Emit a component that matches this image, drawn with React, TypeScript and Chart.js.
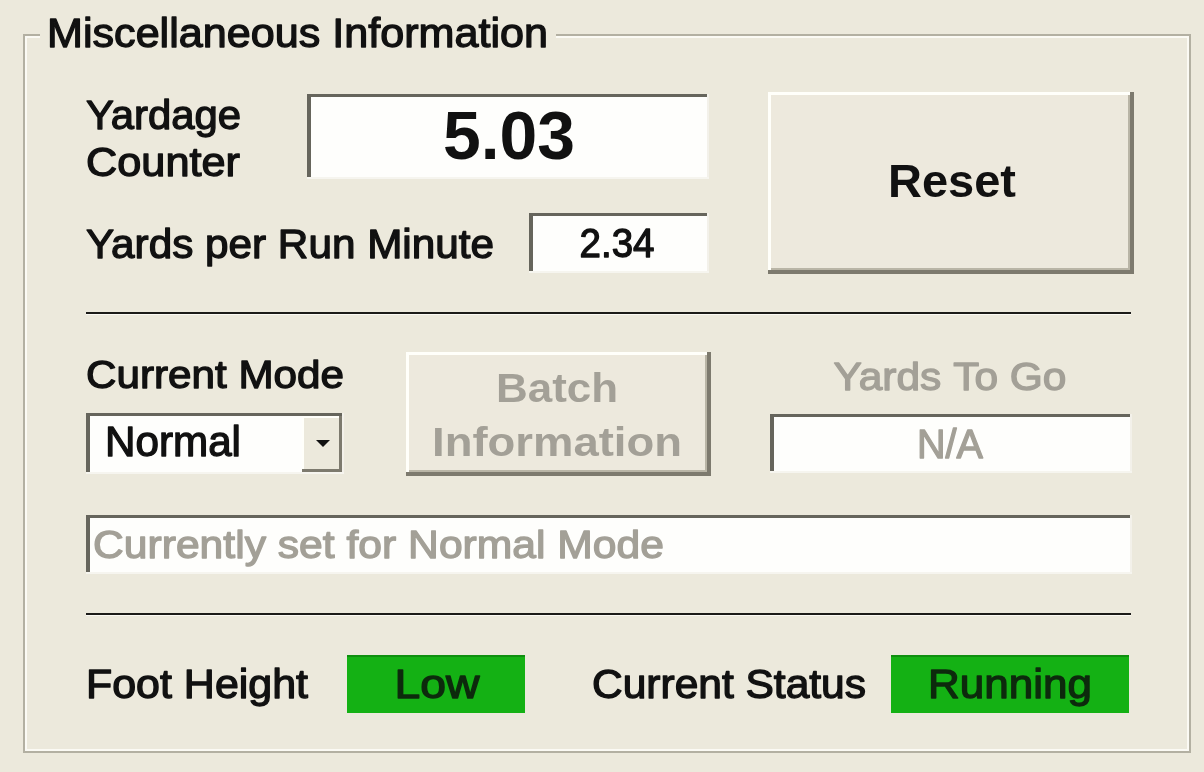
import React, { useEffect, useRef } from "react";
import { Chart, registerables } from "chart.js";

Chart.register(...registerables);

// ---- data ----
const groupTitle = ["Miscellaneous Information"];
const counterLabels = ["Yardage", "Counter"];
const rateLabel = ["Yards per Run Minute"];
const counterValues = [5.03, 2.34];
const buttonLabels = ["Reset", "Batch", "Information"];
const modeLabels = ["Current Mode", "Normal"];
const toGoLabels = ["Yards To Go", "N/A"];
const modeDescription = ["Currently set for Normal Mode"];
const statusLabels = ["Foot Height", "Current Status"];
const statusValues = ["Low", "Running"];

const FONT = '"Liberation Sans", Arial, sans-serif';
const BG = "#ece9dc";
const DISABLED = "#a3a097";
const GREEN = "#14b114";

type TOpts = { size: number; bold?: boolean; color?: string; width?: number; align?: "left" | "center"; heavy?: number };

function txt(ctx: CanvasRenderingContext2D, s: string, x: number, y: number, o: TOpts) {
  ctx.save();
  ctx.font = `${o.bold ? "bold " : ""}${o.size}px ${FONT}`;
  ctx.fillStyle = o.color || "#111";
  ctx.strokeStyle = o.color || "#111";
  ctx.textBaseline = "alphabetic";
  const m = ctx.measureText(s).width;
  const w = o.width || m;
  const sx = w / m;
  const left = o.align === "center" ? x - w / 2 : x;
  ctx.translate(left, y);
  ctx.scale(sx, 1);
  ctx.textAlign = "left";
  ctx.fillText(s, 0, 0);
  const heavy = o.heavy !== undefined ? o.heavy : o.bold ? 0 : 1.3;
  if (heavy > 0) {
    ctx.lineWidth = heavy;
    ctx.lineJoin = "round";
    ctx.strokeText(s, 0, 0);
  }
  ctx.restore();
}

function rect(ctx: CanvasRenderingContext2D, x: number, y: number, w: number, h: number, c: string) {
  ctx.fillStyle = c;
  ctx.fillRect(x, y, w, h);
}

function sunken(ctx: CanvasRenderingContext2D, x: number, y: number, w: number, h: number) {
  rect(ctx, x, y, w, h, "#fefefc");
  rect(ctx, x, y, w, 3, "#66655c");
  rect(ctx, x, y, 4, h, "#66655c");
  rect(ctx, x + w - 2, y, 2, h, "#f3f1ea");
  rect(ctx, x, y + h - 2, w, 2, "#f6f5ef");
}

function raised(ctx: CanvasRenderingContext2D, x: number, y: number, w: number, h: number) {
  rect(ctx, x, y, w, h, "#ede9dd");
  rect(ctx, x, y, w, 3, "#fffffa");
  rect(ctx, x, y, 3, h, "#fffffa");
  rect(ctx, x + w - 4, y, 4, h, "#7d7a6e");
  rect(ctx, x, y + h - 4, w, 4, "#7d7a6e");
  rect(ctx, x + w - 6, y + 3, 2, h - 7, "#b9b5a6");
  rect(ctx, x + 3, y + h - 6, w - 7, 2, "#b9b5a6");
}

const formPlugin = {
  id: "formPainter",
  beforeDraw(chart: any) {
    const ctx: CanvasRenderingContext2D = chart.ctx;
    const W = chart.width, H = chart.height;
    ctx.save();
    rect(ctx, 0, 0, W, H, BG);

    // group box (etched)
    ctx.strokeStyle = "#b3b0a2";
    ctx.lineWidth = 2;
    ctx.beginPath();
    ctx.moveTo(40, 35); ctx.lineTo(24, 35); ctx.lineTo(24, 752); ctx.lineTo(1190, 752); ctx.lineTo(1190, 35); ctx.lineTo(556, 35);
    ctx.stroke();
    ctx.strokeStyle = "#fbfaf4";
    ctx.beginPath();
    ctx.moveTo(40, 37); ctx.lineTo(26, 37); ctx.lineTo(26, 750); ctx.lineTo(1188, 750); ctx.lineTo(1188, 37); ctx.lineTo(556, 37);
    ctx.stroke();
    txt(ctx, groupTitle[0], 47, 47, { size: 41, width: 501 });

    // yardage counter
    txt(ctx, counterLabels[0], 86, 129, { size: 40, width: 155 });
    txt(ctx, counterLabels[1], 86, 176, { size: 40, width: 154 });
    sunken(ctx, 307, 94, 402, 85);
    txt(ctx, counterValues[0].toFixed(2), 509, 159, { size: 69, bold: true, align: "center", width: 132 });

    txt(ctx, rateLabel[0], 86, 258, { size: 40, width: 408 });
    sunken(ctx, 529, 213, 180, 60);
    txt(ctx, counterValues[1].toFixed(2), 617, 257, { size: 40, align: "center", width: 75 });

    // reset button
    raised(ctx, 768, 92, 366, 182);
    txt(ctx, buttonLabels[0], 952, 197, { size: 46, bold: true, align: "center", width: 128 });

    // separator
    rect(ctx, 86, 312, 1045, 2, "#1b1b18");
    rect(ctx, 86, 314, 1045, 1, "#fbfaf4");

    // current mode
    txt(ctx, modeLabels[0], 86, 388, { size: 39, width: 258 });
    sunken(ctx, 86, 413, 258, 61);
    txt(ctx, modeLabels[1], 105, 456, { size: 42, width: 136 });
    // dropdown button
    rect(ctx, 302, 416, 40, 56, "#ece9dc");
    rect(ctx, 302, 416, 40, 2, "#fffffa");
    rect(ctx, 302, 416, 2, 56, "#fffffa");
    rect(ctx, 339, 416, 3, 56, "#7d7a6e");
    rect(ctx, 302, 469, 40, 3, "#7d7a6e");
    ctx.fillStyle = "#111";
    ctx.beginPath();
    ctx.moveTo(316, 440); ctx.lineTo(330, 440); ctx.lineTo(323, 447); ctx.closePath();
    ctx.fill();

    // batch information (disabled)
    raised(ctx, 406, 352, 305, 124);
    txt(ctx, buttonLabels[1], 557, 402, { size: 41, bold: true, align: "center", color: DISABLED, width: 122 });
    txt(ctx, buttonLabels[2], 557, 456, { size: 41, bold: true, align: "center", color: DISABLED, width: 250 });

    // yards to go (disabled)
    txt(ctx, toGoLabels[0], 950, 390, { size: 39, align: "center", color: DISABLED, width: 233 });
    sunken(ctx, 770, 414, 362, 59);
    txt(ctx, toGoLabels[1], 950, 458, { size: 41, align: "center", color: DISABLED, width: 66 });

    // description
    sunken(ctx, 86, 515, 1046, 59);
    txt(ctx, modeDescription[0], 93, 558, { size: 39, color: DISABLED, width: 571 });

    // separator 2
    rect(ctx, 86, 613, 1045, 2, "#1b1b18");
    rect(ctx, 86, 615, 1045, 1, "#fbfaf4");

    // status row
    txt(ctx, statusLabels[0], 86, 698, { size: 40, width: 222 });
    rect(ctx, 347, 655, 178, 58, GREEN);
    rect(ctx, 347, 655, 178, 2, "#0f8f0f");
    txt(ctx, statusValues[0], 437, 698, { size: 40, align: "center", color: "#0d2a0d", width: 85 });

    txt(ctx, statusLabels[1], 592, 698, { size: 40, width: 274 });
    rect(ctx, 891, 655, 238, 58, GREEN);
    rect(ctx, 891, 655, 238, 2, "#0f8f0f");
    txt(ctx, statusValues[1], 1010, 698, { size: 40, align: "center", color: "#0d2a0d", width: 164 });

    ctx.restore();
  },
};

export default function App() {
  const ref = useRef<HTMLCanvasElement | null>(null);
  useEffect(() => {
    document.body.style.margin = "0";
    const canvas = ref.current!;
    const chart = new Chart(canvas, {
      type: "bar",
      data: { labels: [], datasets: [] },
      options: {
        animation: false,
        responsive: false,
        devicePixelRatio: 1,
        events: [],
        plugins: { legend: { display: false }, tooltip: { enabled: false } },
        scales: { x: { display: false }, y: { display: false } },
      },
      plugins: [formPlugin as any],
    });
    return () => chart.destroy();
  }, []);
  return (
    <div style={{ width: 1204, height: 772, background: BG }}>
      <canvas ref={ref} width={1204} height={772} style={{ display: "block" }} />
    </div>
  );
}
